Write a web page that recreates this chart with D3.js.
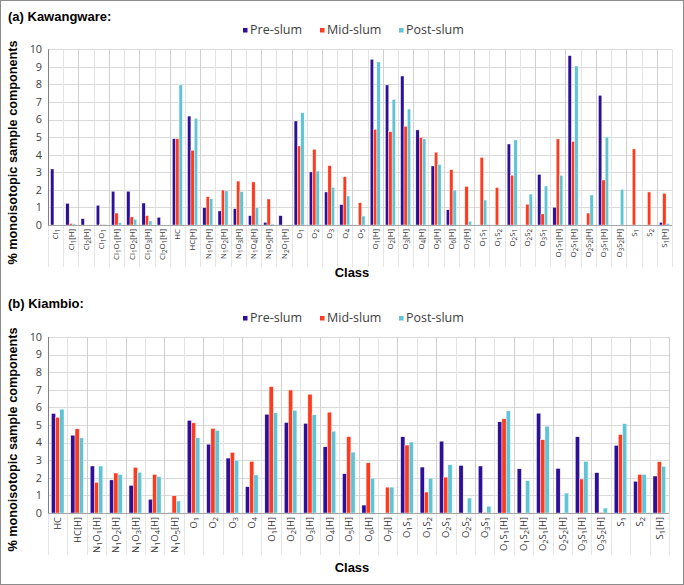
<!DOCTYPE html>
<html>
<head>
<meta charset="utf-8">
<script src="https://cdn.jsdelivr.net/npm/d3@7"></script>
<style>
html,body{margin:0;padding:0;background:#fff;}
svg{display:block;}
</style>
</head>
<body>
<svg id="chart" width="684" height="585"></svg>
<script>
// ---------- DATA ----------
const seriesNames = ["Pre-slum", "Mid-slum", "Post-slum"];
const yTicks = [0,1,2,3,4,5,6,7,8,9,10];

const categoriesA = ["Cl1","Cl1[H]","Cl2[H]","Cl1O1","Cl1O1[H]","Cl1O2[H]","Cl1O3[H]","Cl2O1[H]",
  "HC","HC[H]","N1O1[H]","N1O2[H]","N1O3[H]","N1O4[H]","N1O5[H]","N2O1[H]",
  "O1","O2","O3","O4","O5","O1[H]","O2[H]","O3[H]","O4[H]","O5[H]","O6[H]","O7[H]",
  "O1S1","O1S2","O2S1","O2S2","O3S1","O1S1[H]","O2S1[H]","O2S2[H]","O3S1[H]","O3S2[H]",
  "S1","S2","S1[H]"];
const preA  = [3.19,1.23,0.36,1.12,1.92,1.92,1.25,0.44, 4.91,6.20,0.99,0.80,0.93,0.53,0.15,0.53,
  5.92,3.02,1.88,1.16,0, 9.43,7.97,8.48,5.41,3.36,0.87,0, 0,0,4.61,0,2.88, 1.01,9.64,0,7.38,0, 0,0,0.15];
const midA  = [0,0.08,0,0.04,0.68,0.46,0.53,0, 4.91,4.25,1.61,1.99,2.50,2.45,1.48,0,
  4.50,4.31,3.38,2.75,1.27, 5.45,5.31,5.62,4.99,4.14,3.15,2.20, 3.85,2.13,2.83,1.18,0.63, 4.90,4.76,0.68,2.56,0, 4.33,1.88,1.80];
const postA = [0,0.06,0,0.04,0.13,0.32,0.23,0, 7.97,6.07,1.50,1.94,1.90,0.99,0.06,0,
  6.39,3.07,2.13,1.65,0.51, 9.28,7.15,6.60,4.90,3.45,1.99,0.21, 1.42,0,4.84,1.76,2.22, 2.83,9.05,1.71,5.01,2.03, 0,0,0.08];

const categoriesB = ["HC","HC[H]","N1O1[H]","N1O2[H]","N1O3[H]","N1O4[H]","N1O5[H]",
  "O1","O2","O3","O4","O1[H]","O2[H]","O3[H]","O4[H]","O5[H]","O6[H]","O7[H]",
  "O1S1","O1S2","O2S1","O2S2","O3S1","O1S1[H]","O1S2[H]","O2S1[H]","O2S2[H]","O3S1[H]","O3S2[H]",
  "S1","S2","S1[H]"];
const preB  = [5.65,4.42,2.67,1.88,1.57,0.78,0.02, 5.26,3.91,3.12,1.49, 5.61,5.14,5.09,3.76,2.23,0.45,0,
  4.33,2.61,4.08,2.70,2.67, 5.18,2.51,5.67,2.53,4.33,2.29, 3.84,1.80,2.10];
const midB  = [5.44,4.78,1.74,2.27,2.59,2.19,0.98, 5.12,4.80,3.44,2.93, 7.18,6.99,6.75,5.73,4.33,2.85,1.47,
  3.86,1.19,2.04,0,0.04, 5.35,0,4.16,0,1.93,0.04, 4.46,2.19,2.91];
const postB = [5.90,4.27,2.67,2.19,2.31,2.06,0.68, 4.27,4.69,3.00,2.16, 5.69,5.84,5.58,4.65,3.46,1.98,1.47,
  4.03,1.98,2.74,0.85,0.38, 5.80,1.83,4.93,1.13,2.93,0.28, 5.07,2.19,2.65];

// ---------- STYLE / LAYOUT ----------
const colors = ["#2d0f99", "#ff3b1f", "#5ec4d6"];
const svg = d3.select("#chart");

svg.append("rect").attr("x",0.5).attr("y",0.5).attr("width",683).attr("height",584)
  .attr("fill","#fff").attr("stroke","#8c8c8c").attr("stroke-width",1);

const panels = [
  {title:"(a) Kawangware:", cats:categoriesA, vals:[preA,midA,postA],
   left:48, right:672, top:49.3, bottom:225, titleY:21, legendY:34, classY:277,
   ytitleY:152.5, labelSize:7.8, pad:0.34},
  {title:"(b) Kiambio:", cats:categoriesB, vals:[preB,midB,postB],
   left:48, right:669, top:337, bottom:513, titleY:308, legendY:322, classY:572,
   ytitleY:439.5, labelSize:9.4, pad:0.35}
];

function addLabel(sel, label, size){
  // split into letters / digits, digits become subscripts
  const parts = label.match(/(\d+|[^\d]+)/g);
  parts.forEach(p=>{
    const t = sel.append("tspan").text(p);
    if(/^\d+$/.test(p)) t.attr("baseline-shift", (-0.2*size).toFixed(2)).attr("font-size","80%");
  });
}

panels.forEach(P=>{
  const g = svg.append("g");
  const x0 = d3.scaleBand().domain(P.cats).range([P.left,P.right])
    .paddingInner(P.pad).paddingOuter(P.pad/2);
  const x1 = d3.scaleBand().domain(seriesNames).range([0,x0.bandwidth()]).padding(0);
  const y = d3.scaleLinear().domain([0,10]).range([P.bottom,P.top]);
  const step = x0.step();

  // horizontal gridlines
  g.append("g").selectAll("line").data(yTicks.filter(d=>d>0)).join("line")
    .attr("x1",P.left).attr("x2",P.right)
    .attr("y1",d=>Math.round(y(d))+0.5).attr("y2",d=>Math.round(y(d))+0.5)
    .attr("stroke","#d9d9d9").attr("stroke-width",1);

  // vertical gridlines at category boundaries (extend into label area)
  const bounds = d3.range(1, P.cats.length+1);
  g.append("g").selectAll("line").data(bounds).join("line")
    .attr("x1",i=>Math.round(P.left+i*step)+0.5).attr("x2",i=>Math.round(P.left+i*step)+0.5)
    .attr("y1",P.top).attr("y2",P.bottom)
    .attr("stroke",i=>i%2===0?"#d0d0d0":"#e3e3e3").attr("stroke-width",1);
  g.append("g").selectAll("line").data(d3.range(0, P.cats.length+1)).join("line")
    .attr("x1",i=>Math.round(P.left+i*step)+0.5).attr("x2",i=>Math.round(P.left+i*step)+0.5)
    .attr("y1",P.bottom).attr("y2",P.bottom+42)
    .attr("stroke","#e6e6e6").attr("stroke-width",1);

  // bars
  const rows = P.cats.map((c,i)=>({cat:c, v:seriesNames.map((s,k)=>({s, k, val:P.vals[k][i]}))}));
  g.append("g").selectAll("g").data(rows).join("g")
    .attr("transform",d=>`translate(${x0(d.cat)},0)`)
    .selectAll("rect").data(d=>d.v).join("rect")
    .attr("x",d=>x1(d.s)).attr("width",x1.bandwidth())
    .attr("y",d=>y(d.val)).attr("height",d=>y(0)-y(d.val))
    .attr("fill",d=>colors[d.k]).attr("stroke","#fff").attr("stroke-width",0.4);

  // axes lines
  g.append("line").attr("x1",P.left).attr("x2",P.right)
    .attr("y1",Math.round(y(0))+0.5).attr("y2",Math.round(y(0))+0.5)
    .attr("stroke","#a6a6a6").attr("stroke-width",1);
  g.append("line").attr("x1",P.left+0.5).attr("x2",P.left+0.5)
    .attr("y1",P.top).attr("y2",P.bottom)
    .attr("stroke","#808080").attr("stroke-width",1);

  // y tick labels
  g.append("g").selectAll("text").data(yTicks).join("text")
    .attr("x",P.left-6).attr("y",d=>y(d)).attr("dy","0.36em")
    .attr("text-anchor","end").attr("font-family","'Open Sans', sans-serif")
    .attr("font-size",10.8).attr("fill","#404040").text(d=>d);

  // category labels
  g.append("g").selectAll("text").data(P.cats).join("text")
    .attr("transform",d=>`translate(${x0(d)+x0.bandwidth()/2},${P.bottom+4}) rotate(-90)`)
    .attr("dy","0.36em").attr("text-anchor","end")
    .attr("font-family","'Open Sans', sans-serif").attr("font-size",P.labelSize)
    .attr("fill","#333")
    .each(function(d){ addLabel(d3.select(this), d, P.labelSize); });

  // title
  g.append("text").attr("x",8).attr("y",P.titleY)
    .attr("font-family","'Liberation Sans', Arial, sans-serif").attr("font-weight","bold")
    .attr("font-size",13).attr("fill","#000").text(P.title);

  // legend
  const legX = [243, 320, 399];
  seriesNames.forEach((s,k)=>{
    g.append("rect").attr("x",legX[k]).attr("y",P.legendY-6).attr("width",4.5).attr("height",4.5)
      .attr("fill",colors[k]);
    g.append("text").attr("x",legX[k]+7).attr("y",P.legendY)
      .attr("font-family","'Open Sans', sans-serif").attr("font-size",12.5)
      .attr("fill","#404040").text(s);
  });

  // axis titles
  g.append("text").attr("transform",`translate(17,${P.ytitleY}) rotate(-90)`)
    .attr("text-anchor","middle")
    .attr("font-family","'Liberation Sans', Arial, sans-serif").attr("font-weight","bold")
    .attr("font-size",12.7).attr("fill","#000").text("% monoisotopic sample components");
  g.append("text").attr("x",352).attr("y",P.classY).attr("text-anchor","middle")
    .attr("font-family","'Liberation Sans', Arial, sans-serif").attr("font-weight","bold")
    .attr("font-size",13).attr("fill","#000").text("Class");
});
</script>
</body>
</html>
